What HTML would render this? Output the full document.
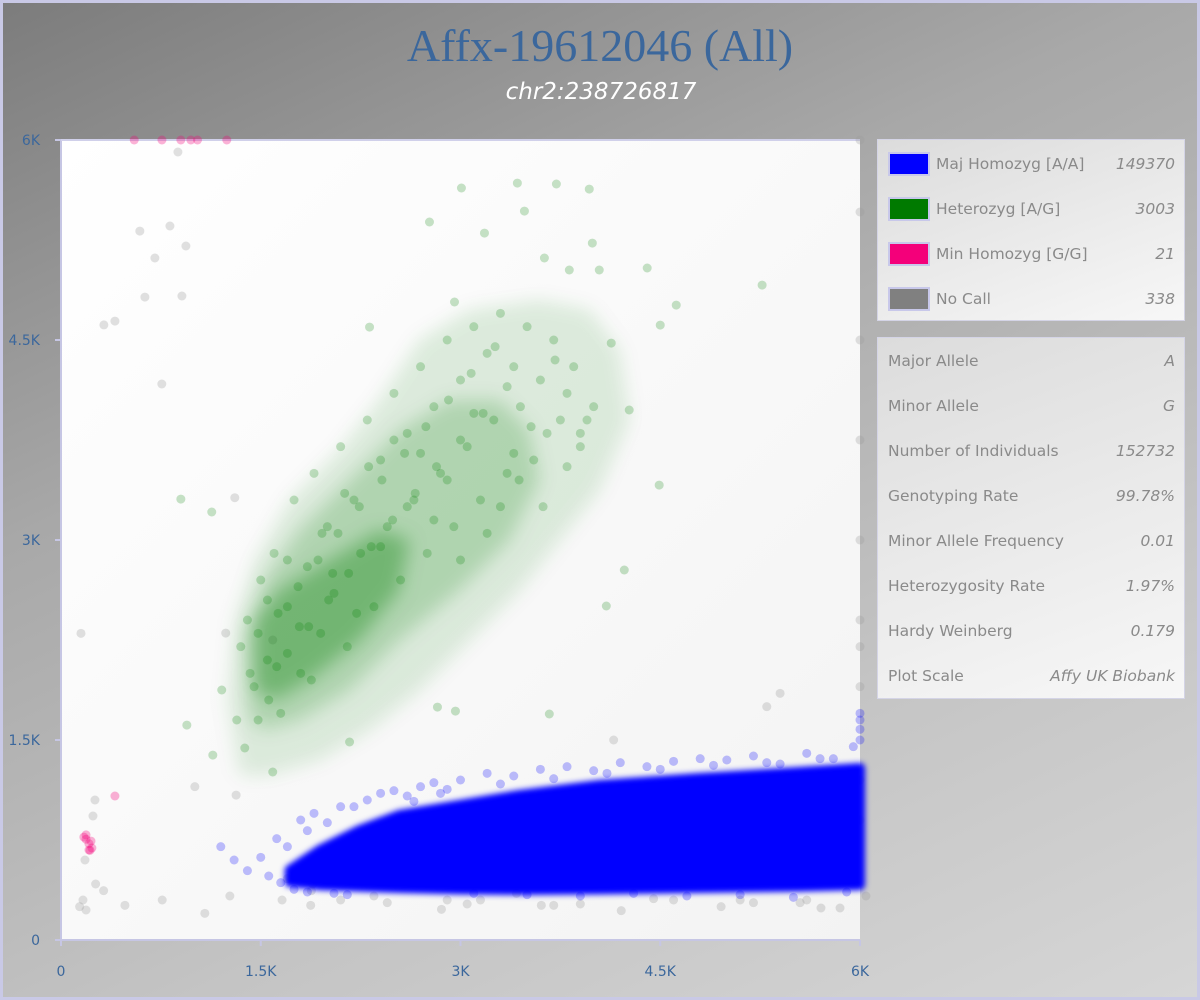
<!DOCTYPE html>
<html><head><meta charset="utf-8"><style>
html,body{margin:0;padding:0;width:1200px;height:1000px;overflow:hidden}
body{font-family:"DejaVu Sans","Liberation Sans",sans-serif}
#root{position:absolute;left:0;top:0;width:1194px;height:994px;border:3px solid #c9c9e6;background:linear-gradient(155deg,#7c7c7c 0%,#a8a8a8 35%,#c4c4c4 70%,#d6d6d6 100%)}
.box{position:absolute;left:874px;width:306px;border:1px solid #d4d4e6;background:linear-gradient(160deg,#dcdcdc,#f7f7f7)}
.row{position:absolute;left:10px;right:9px;font-size:15.5px;color:#8a8a8a}
.row .v{position:absolute;right:0;top:0;font-style:italic}
.sw{position:absolute;left:0;width:42px;height:24px;border:2px solid #c8c8ea;box-sizing:border-box}
</style></head><body>
<div id="root">
<svg id="svg" width="1200" height="1000" style="position:absolute;left:-3px;top:-3px">
<defs><linearGradient id="pg" x1="0" y1="0" x2="1" y2="1"><stop offset="0" stop-color="#ffffff"/><stop offset="1" stop-color="#f3f3f3"/></linearGradient>
<filter id="blurG" x="-20%" y="-20%" width="140%" height="140%"><feGaussianBlur stdDeviation="9"/></filter>
<filter id="blurB" x="-10%" y="-30%" width="120%" height="160%"><feGaussianBlur stdDeviation="3"/></filter>
</defs>
<text x="600" y="61" text-anchor="middle" font-family="Liberation Serif, serif" font-size="46" fill="#3b679c">Affx-19612046 (All)</text>
<text x="601" y="99" text-anchor="middle" font-family="DejaVu Sans, sans-serif" font-style="italic" font-size="23" fill="#ffffff">chr2:238726817</text>
<rect x="61" y="140" width="799" height="800" fill="url(#pg)"/>
<line x1="61" y1="140" x2="61" y2="946" stroke="#c6c6e4" stroke-width="2"/>
<line x1="55" y1="940" x2="860" y2="940" stroke="#c6c6e4" stroke-width="2"/>
<line x1="61" y1="140" x2="860" y2="140" stroke="#d0d0ea" stroke-width="2"/>
<g id="axes"></g>
<g id="marks"></g>
</svg>
<div class="box" style="top:136px;height:180px">
 <div class="row" style="top:12px;height:26px"><div class="sw" style="background:#0000ff"></div><span style="position:absolute;left:48px;top:3px">Maj Homozyg [A/A]</span><span class="v" style="top:3px">149370</span></div>
 <div class="row" style="top:57px;height:26px"><div class="sw" style="background:#007a00"></div><span style="position:absolute;left:48px;top:3px">Heterozyg [A/G]</span><span class="v" style="top:3px">3003</span></div>
 <div class="row" style="top:102px;height:26px"><div class="sw" style="background:#f4007a"></div><span style="position:absolute;left:48px;top:3px">Min Homozyg [G/G]</span><span class="v" style="top:3px">21</span></div>
 <div class="row" style="top:147px;height:26px"><div class="sw" style="background:#808080"></div><span style="position:absolute;left:48px;top:3px">No Call</span><span class="v" style="top:3px">338</span></div>
</div>
<div class="box" id="stats" style="top:334px;height:360px"></div>
</div>
<script>
const statLabels=["Major Allele","Minor Allele","Number of Individuals","Genotyping Rate","Minor Allele Frequency","Heterozygosity Rate","Hardy Weinberg","Plot Scale"];
const statValues=["A","G","152732","99.78%","0.01","1.97%","0.179","Affy UK Biobank"];
const xTicks=[0,1500,3000,4500,6000];
const xTickLabels=["0","1.5K","3K","4.5K","6K"];
const yTicks=[0,1500,3000,4500,6000];
const yTickLabels=["0","1.5K","3K","4.5K","6K"];
// blue dense band
const blueBandX=[1717,1942,2242,2542,2992,3442,4042,4792,5542,6000];
const blueBandHi=[525,675,825,938,1013,1088,1163,1215,1260,1290];
const blueBandLo=[435,412,400,390,380,375,380,390,400,412];
const blueX=[1400,1200,1300,1500,1560,1620,1700,1800,1850,1900,2000,2100,2200,2300,2400,2500,2600,2700,2800,2900,3000,3200,3400,3600,3800,4000,4200,4400,4600,4800,5000,5200,5400,5600,5800,5950,6000,6000,6000,6000,3100,3500,3900,4300,4700,5100,5500,5900,2650,2850,3300,3700,4100,4500,4900,5300,5700,1650,1750,1850,2050,2150];
const blueY=[520,700,600,620,480,760,700,900,820,950,880,1000,1000,1050,1100,1120,1080,1150,1180,1130,1200,1250,1230,1280,1300,1270,1330,1300,1340,1360,1350,1380,1320,1400,1360,1450,1500,1580,1650,1700,350,340,330,350,330,340,320,360,1040,1100,1170,1210,1250,1280,1310,1330,1360,430,380,360,350,340];
// green
const greenX=[3007,3427,3720,3967,3480,2767,3180,3990,3630,4402,3817,4042,5265,4620,4500,2955,2317,4132,4267,4492,4230,4095,3667,2962,2827,2167,1590,1380,1320,945,900,1132,1140,1207,
1400,1450,1500,1550,1600,1650,1700,1750,1800,1850,1900,1950,2000,2050,2100,2150,2200,2250,2300,2350,2400,2450,2500,2550,2600,2650,2700,2750,2800,2850,2900,2950,3000,3050,3100,3150,3200,3250,3300,3350,3400,3450,3500,3550,3600,3650,3700,3750,3800,3850,3900,3950,4000,
1350,1420,1480,1560,1630,1700,1780,1860,1930,2010,2080,2160,2240,2330,2410,2490,2580,2660,2740,2820,2910,3000,3080,3170,3260,3350,3440,3530,3620,3710,3800,3900,
1480,1550,1620,1700,1790,1880,1960,2040,2130,2220,2310,2400,2500,2600,2700,2800,2900,3000,3100,3200,3300,3400];
const greenY=[5640,5677,5670,5632,5467,5385,5302,5227,5115,5040,5025,5025,4912,4762,4612,4785,4597,4477,3975,3412,2775,2505,1695,1717,1747,1485,1260,1440,1650,1612,3307,3210,1387,1875,
2400,1900,2700,2100,2900,1700,2500,3300,2000,2800,3500,2300,3100,2600,3700,2200,3300,2900,3900,2500,3600,3100,4100,2700,3800,3300,4300,2900,4000,3500,4500,3100,4200,3700,4600,3300,4400,3900,4700,3500,4300,4000,4600,3600,4200,3800,4500,3900,4100,4300,3700,3900,4000,
2200,2000,2300,1800,2450,2150,2650,2350,2850,2550,3050,2750,3250,2950,3450,3150,3650,3350,3850,3550,4050,3750,4250,3950,4450,4150,3450,3850,3250,4350,3550,3800,
1650,2550,2050,2850,2350,1950,3050,2750,3350,2450,3550,2950,3750,3250,3650,3150,3450,2850,3950,3050,3250,3650];
// pink
const pinkX=[188,172,188,225,210,232,218,210,405,758,900,975,1025,1245,550];
const pinkY=[788,772,756,742,722,690,673,675,1080,6000,6000,6000,6000,6000,6000];
// gray (no call)
const grayX=[188,180,255,240,165,878,818,705,592,630,322,405,938,908,757,1315,1237,1590,1305,1005,1268,1875,2857,3607,4207,4957,5707,6045,2100,3050,3700,4600,5200,5600,320,260,140,150,480,760,1080,1890,2450,3150,3900,4450,5100,5550,5850,6000,6000,6000,6000,6000,6000,6000,6000,6000,6000,1700,1880,2350,3420,2900,5400,5300,4150,1660];
const grayY=[225,600,1050,930,300,5910,5355,5115,5317,4822,4613,4642,5205,4830,4170,1087,2302,2250,3317,1150,330,260,230,260,220,250,240,330,300,270,260,300,280,300,370,420,250,2300,260,300,200,420,280,300,270,310,300,280,240,5460,4500,3750,3000,2400,2200,1900,1200,900,6000,460,370,330,350,300,1850,1750,1500,300];

const NS='http://www.w3.org/2000/svg';
const X0=61,X1=860,Y0=940,Y1=140,MAX=6000;
function sx(v){return X0+(X1-X0)*v/MAX}
function sy(v){return Y0-(Y0-Y1)*v/MAX}
const axes=document.getElementById('axes'),marks=document.getElementById('marks');
function mk(tag,attrs,parent){const e=document.createElementNS(NS,tag);for(const k in attrs)e.setAttribute(k,attrs[k]);parent.appendChild(e);return e}
xTicks.forEach((t,i)=>{
 mk('line',{x1:sx(t),x2:sx(t),y1:940,y2:946,stroke:'#c6c6e4','stroke-width':2},axes);
 const tx=mk('text',{x:sx(t),y:976,'text-anchor':'middle','font-size':14,fill:'#3b679c','font-family':'DejaVu Sans, sans-serif'},axes);
 tx.textContent=xTickLabels[i];
 
 
});
yTicks.forEach((t,i)=>{
 mk('line',{x1:55,x2:61,y1:sy(t),y2:sy(t),stroke:'#c6c6e4','stroke-width':2},axes);
 const tx=mk('text',{x:40,y:sy(t)+5,'text-anchor':'end','font-size':14,fill:'#3b679c','font-family':'DejaVu Sans, sans-serif'},axes);
 tx.textContent=yTickLabels[i];
 
 
});
function dots(xs,ys,color,op,name){
 const g=mk('g',{},marks);
 
 
 xs.forEach((x,i)=>{const c=mk('circle',{cx:sx(x),cy:sy(ys[i]),r:4.5,fill:color,'fill-opacity':op},g);
  
  });
}
dots(grayX,grayY,'#9a9a9a',0.3,'no-call-points');
function greenLayer(pts,op){
 const p=mk('polygon',{points:pts.map(q=>sx(q[0])+','+sy(q[1])).join(' '),fill:'#007a00','fill-opacity':op,filter:'url(#blurG)'},marks);
 
 
}
const greenOuter=[[1342,1238],[1252,1800],[1305,2400],[1455,2850],[1717,3300],[2092,3675],[2392,4050],[2692,4500],[3067,4725],[3592,4800],[3967,4725],[4192,4425],[4267,3900],[4042,3375],[3742,3000],[3442,2625],[3067,2250],[2692,1875],[2317,1575],[1942,1350],[1567,1238]];
const greenMid=[[1417,1650],[1380,2250],[1530,2700],[1792,3075],[2167,3450],[2542,3825],[2917,4050],[3292,4050],[3517,3825],[3592,3450],[3367,3000],[2992,2625],[2542,2250],[2167,1875],[1792,1650],[1530,1575]];
const greenCore=[[1455,1875],[1455,2400],[1642,2625],[2017,2850],[2392,3075],[2617,3000],[2542,2625],[2242,2250],[1867,1950],[1605,1800]];
greenLayer(greenOuter,0.12);greenLayer(greenMid,0.2);greenLayer(greenCore,0.35);
dots(greenX,greenY,'#008000',0.22,'heterozyg-points');
const bp=blueBandX.map((x,i)=>sx(x)+','+sy(blueBandHi[i])).concat(blueBandX.slice().reverse().map((x,i)=>sx(x)+','+sy(blueBandLo[blueBandX.length-1-i])));
const band=mk('polygon',{points:bp.join(' '),fill:'#0000ff',stroke:'#0000ff','stroke-width':10,'stroke-linejoin':'round',filter:'url(#blurB)'},marks);


dots(blueX,blueY,'#0000ff',0.25,'maj-homozyg-points');
dots(pinkX,pinkY,'#f4007a',0.3,'min-homozyg-points');
const st=document.getElementById('stats');
statLabels.forEach((l,i)=>{
 const r=document.createElement('div');r.className='row';r.style.top=(14+i*45)+'px';
 
 
 r.innerHTML='<span>'+l+'</span><span class="v">'+statValues[i]+'</span>';
 st.appendChild(r);
});
</script>
</body></html>
